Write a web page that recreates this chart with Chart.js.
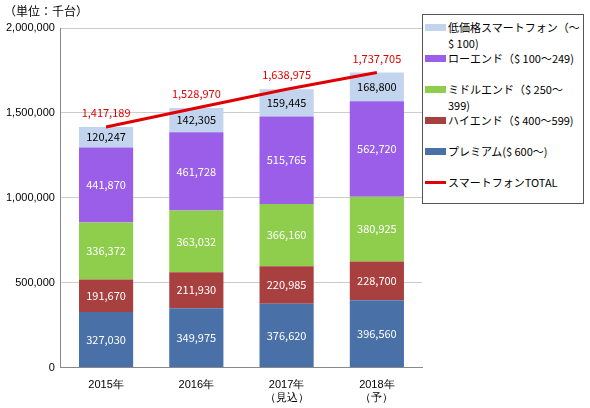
<!DOCTYPE html>
<html><head><meta charset="utf-8">
<script src="https://cdn.jsdelivr.net/npm/chart.js@4"></script>
<style>
body{margin:0;background:#fff;font-family:"Noto Sans CJK JP",sans-serif;}
#wrap{position:relative;width:590px;height:408px;}
#unit{position:absolute;left:4px;top:2px;font-size:12px;color:#000;}
#legend{position:absolute;left:422px;top:14px;width:162px;height:190px;border:1px solid #555;box-sizing:border-box;background:#fff;font-size:11px;padding:4px 2px;}
.li{display:flex;align-items:flex-start;height:31px;}
.sw{width:21px;height:7px;margin-top:5px;margin-right:2px;flex:none;}
</style></head>
<body><div id="wrap">
<canvas id="c" width="590" height="408"></canvas>
<div id="unit">（単位：千台）</div>
<div id="legend"></div>
</div>
<script>
const years = [['2015年'], ['2016年'], ['2017年', '（見込）'], ['2018年', '（予）']];
const premium = [327030, 349975, 376620, 396560];
const highEnd = [191670, 211930, 220985, 228700];
const midEnd = [336372, 363032, 366160, 380925];
const lowEnd = [441870, 461728, 515765, 562720];
const budget = [120247, 142305, 159445, 168800];
const total = [1417189, 1528970, 1638975, 1737705];
const yTicks = [0, 500000, 1000000, 1500000, 2000000];

const fmt = v => v.toLocaleString('en-US');

const bars = [
  {label: 'プレミアム($ 600～)', data: premium, color: '#4a70a8'},
  {label: 'ハイエンド（$ 400～599)', data: highEnd, color: '#a84040'},
  {label: 'ミドルエンド（$ 250～399)', data: midEnd, color: '#8fce4c'},
  {label: 'ローエンド（$ 100～249)', data: lowEnd, color: '#9a5ee8'},
  {label: '低価格スマートフォン（～$ 100)', data: budget, color: '#c3d5ee'}
];

const datasets = bars.map(b => ({
  type: 'bar', label: b.label, data: b.data, backgroundColor: b.color,
  stack: 's', categoryPercentage: 0.6, barPercentage: 1, order: 2
}));
datasets.push({
  type: 'line', label: 'スマートフォンTOTAL', data: total, borderColor: '#e00000',
  borderWidth: 3, pointRadius: 0, order: 1
});

const labelPlugin = {
  id: 'labels',
  afterDatasetsDraw(chart) {
    const c = chart.ctx;
    c.save();
    c.font = '11px "Noto Sans CJK JP", sans-serif';
    c.textAlign = 'center';
    c.textBaseline = 'middle';
    chart.data.datasets.forEach((ds, i) => {
      const meta = chart.getDatasetMeta(i);
      meta.data.forEach((el, j) => {
        if (ds.type === 'line') {
          c.fillStyle = '#e00000';
          c.fillText(fmt(ds.data[j]), el.x, el.y - 14);
        } else {
          c.fillStyle = i === 4 ? '#000' : '#fff';
          c.fillText(fmt(ds.data[j]), el.x, (el.y + el.base) / 2);
        }
      });
    });
    c.restore();
  }
};

new Chart(document.getElementById('c'), {
  data: {labels: years, datasets},
  options: {
    responsive: false, animation: false,
    layout: {padding: {left: 0, right: 168, top: 28, bottom: 0}},
    plugins: {legend: {display: false}, tooltip: {enabled: false}},
    scales: {
      x: {stacked: true, grid: {display: false}, border: {color: '#888'},
          ticks: {color: '#000', font: {size: 11}}},
      y: {stacked: true, min: 0, max: 2000000, afterBuildTicks: a => { a.ticks = yTicks.map(v => ({value: v})); },
          grid: {color: '#ccc', drawTicks: false}, border: {display: true, color: '#888'},
          ticks: {color: '#000', font: {size: 11}, padding: 6, callback: v => fmt(v)}}
    }
  },
  plugins: [labelPlugin]
});

const leg = document.getElementById('legend');
const items = bars.slice().reverse().map(b => ({label: b.label, color: b.color, h: 7}));
items.push({label: 'スマートフォンTOTAL', color: '#e00000', h: 3});
items.forEach(it => {
  const d = document.createElement('div');
  d.className = 'li';
  d.innerHTML = `<span class="sw" style="background:${it.color};height:${it.h}px;margin-top:${it.h === 3 ? 7 : 5}px"></span><span>${it.label}</span>`;
  leg.appendChild(d);
});
</script></body></html>
